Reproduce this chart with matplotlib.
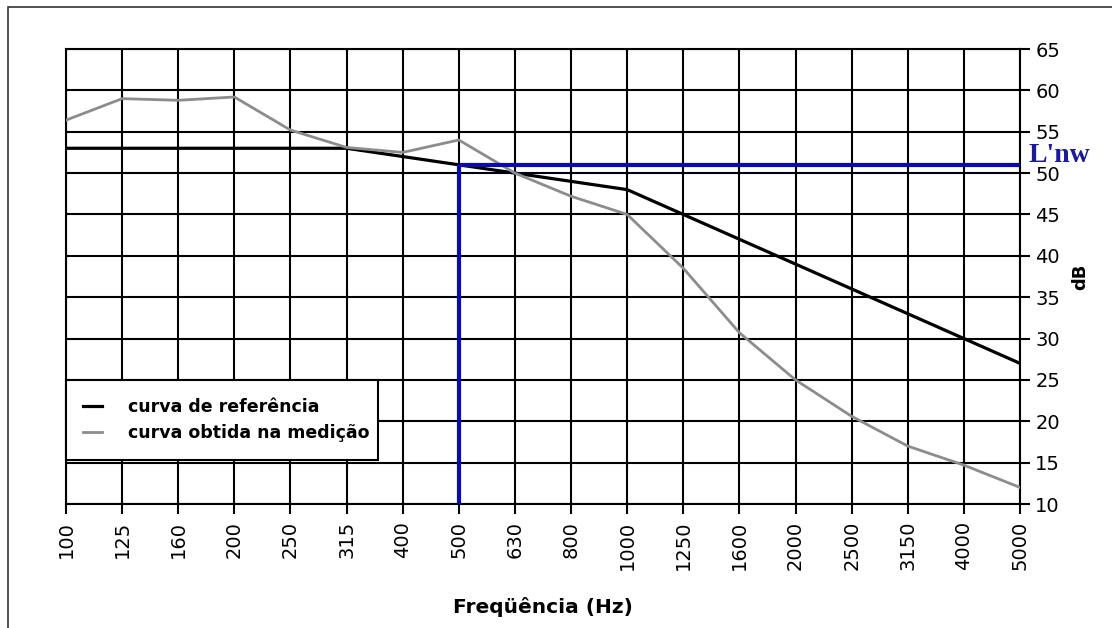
import matplotlib.pyplot as plt
from matplotlib.patches import Rectangle

# one-third octave bands (Hz)
freqs = ['100', '125', '160', '200', '250', '315', '400', '500', '630',
         '800', '1000', '1250', '1600', '2000', '2500', '3150', '4000', '5000']
# shifted reference curve (dB)
ref_curve = [53, 53, 53, 53, 53, 53, 52, 51, 50, 49, 48, 45, 42, 39, 36, 33, 30, 27]
# measured curve (dB)
measured = [56.4, 59.0, 58.8, 59.2, 55.2, 53.1, 52.5, 54.0, 50.0, 47.2, 45.0,
            38.5, 30.7, 25.0, 20.6, 17.0, 14.7, 12.0]
lnw_value = 51
lnw_band = '500'

plt.rcParams['font.family'] = ['DejaVu Sans']

fig = plt.figure(figsize=(11.12, 6.28), dpi=100)
ax = fig.add_axes([66 / 1112, 1 - 504 / 628, 954 / 1112, 455 / 628])

x = list(range(len(freqs)))
ax.plot(x, ref_curve, color='black', lw=2.3, label='curva de referência', zorder=3)
ax.plot(x, measured, color='#8c8c8c', lw=2.0, label='curva obtida na medição', zorder=3)

# L'nw marker lines
xb = freqs.index(lnw_band)
ax.plot([xb, len(freqs) - 1], [lnw_value, lnw_value], color='#0a0ab4', lw=3, zorder=4,
        solid_capstyle='butt')
ax.plot([xb, xb], [10, lnw_value], color='#0a0ab4', lw=3, zorder=4, solid_capstyle='butt')
ax.text(len(freqs) - 1 + 0.15, lnw_value + 0.4, "L'nw", color='#1a1a9a', fontsize=20,
        fontweight='bold', family='Liberation Serif', va='baseline', ha='left', zorder=6)

ax.set_xlim(0, len(freqs) - 1)
ax.set_ylim(10, 65)
ax.set_xticks(x)
ax.set_xticklabels(freqs, rotation=90, fontsize=14)
ax.set_yticks(range(10, 66, 5))
ax.yaxis.tick_right()
ax.yaxis.set_label_position('right')
ax.tick_params(axis='y', labelsize=14, length=7, width=1.5, pad=4)
ax.tick_params(axis='x', length=7, width=1.5, pad=5)
ax.grid(True, color='black', lw=1.5)
ax.set_axisbelow(True)
for s in ax.spines.values():
    s.set_linewidth(1.5)

ax.set_xlabel('Freqüência (Hz)', fontsize=14.5, fontweight='bold', labelpad=19)
ax.set_ylabel('dB', fontsize=13, fontweight='bold', labelpad=8)

leg = ax.legend(loc='upper left', bbox_to_anchor=(0, 0.272, 0.327, 0.0), mode='expand',
                borderaxespad=0, fancybox=False, framealpha=1, edgecolor='black',
                handlelength=1.1, handletextpad=1.5, borderpad=1.0, labelspacing=0.5,
                prop={'weight': 'bold', 'size': 12.5})
leg.get_frame().set_linewidth(1.5)
leg.set_zorder(5)

# outer chart border
fig.patches.append(Rectangle((8, -20), 1130, 621 + 20, transform=None, fill=False,
                             edgecolor='#333333', lw=1.2))

fig.savefig('out.png', dpi=100)
